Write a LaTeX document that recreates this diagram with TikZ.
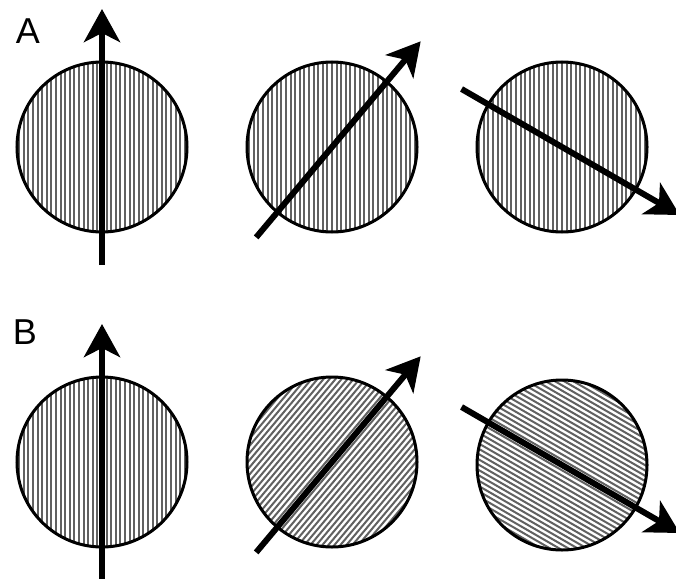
\documentclass[tikz,border=0pt]{standalone}
\usepackage{fontspec}
\setmainfont{Liberation Sans}
\usetikzlibrary{arrows.meta,calc}
\tikzset{
  hatchline/.style={draw=black!62, line width=2pt},
  disc/.style={circle, draw=black, line width=3pt, minimum size=170pt, inner sep=0pt, fill=white},
  hatch/.style={path picture={
      \foreach \k in {-20,...,20}{
        \draw[hatchline] ($(path picture bounding box.center)+(#1:100)+(#1+90:\k*4.6)$) --
                         ($(path picture bounding box.center)+(#1:-100)+(#1+90:\k*4.6)$);
      }}},
  spin/.style={line width=6pt, -{Stealth[length=33pt,width=36pt,inset=9pt]}},
  lab/.style={font=\fontsize{36pt}{36pt}\selectfont, inner sep=0pt}
}
\begin{document}
\begin{tikzpicture}[x=1pt,y=-1pt]
\useasboundingbox (0,0) rectangle (676,578);
% row A
\node[lab] (labA) at (28,31) {A};
\node[disc, hatch=90] (a1) at (102,147) {};
\node[disc, hatch=90] (a2) at (332,147) {};
\node[disc, hatch=90] (a3) at (562,147) {};
\draw[spin] ($(a1.center)+(-90:-118)$) -- ($(a1.center)+(-90:138)$);
\draw[spin] ($(a2.center)+(-50:-118)$) -- ($(a2.center)+(-50:138)$);
\draw[spin] ($(a3.center)+(30:-116)$) -- ($(a3.center)+(30:136)$);
% row B
\node[lab] (labB) at (25,332) {B};
\node[disc, hatch=90] (b1) at (102,462) {};
\node[disc, hatch=-50] (b2) at (332,462) {};
\node[disc, hatch=30] (b3) at (562,465) {};
\draw[spin] ($(b1.center)+(-90:-118)$) -- ($(b1.center)+(-90:138)$);
\draw[spin] ($(b2.center)+(-50:-118)$) -- ($(b2.center)+(-50:138)$);
\draw[spin] ($(b3.center)+(30:-116)$) -- ($(b3.center)+(30:136)$);
\end{tikzpicture}
\end{document}
